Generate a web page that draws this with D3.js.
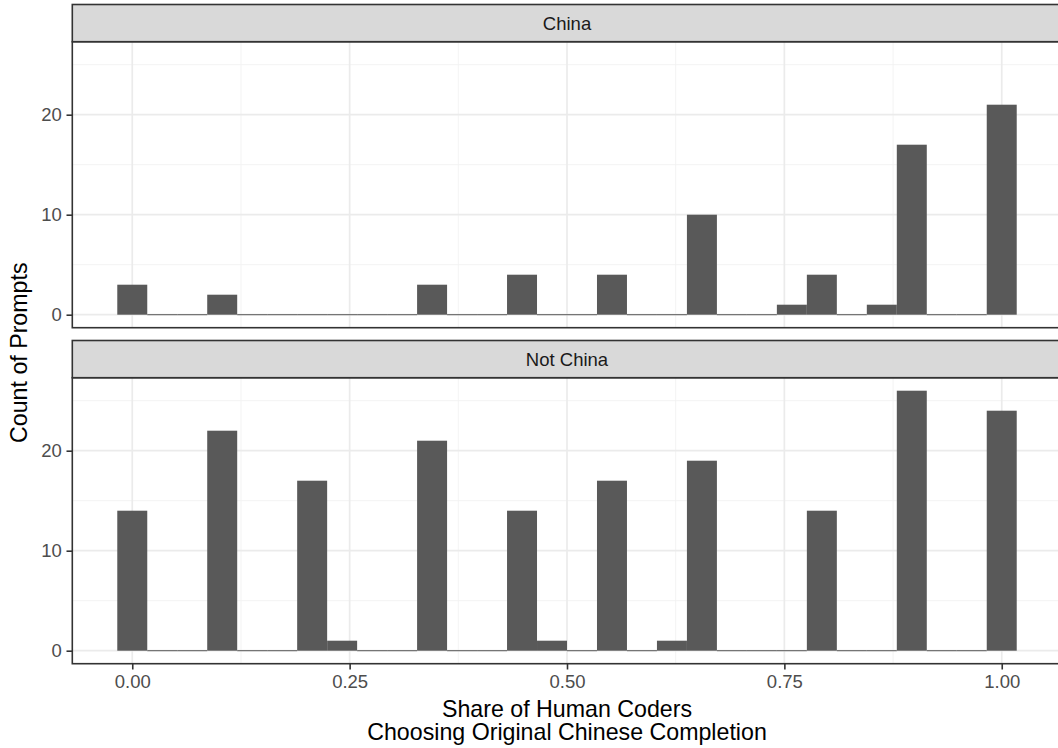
<!DOCTYPE html>
<html>
<head>
<meta charset="utf-8">
<script src="https://cdn.jsdelivr.net/npm/d3@7"></script>
<style>
  html, body { margin: 0; padding: 0; background: #fff; }
  svg { display: block; font-family: "Liberation Sans", Arial, Helvetica, sans-serif; }
</style>
</head>
<body>
<svg id="chart" width="1058" height="748"></svg>
<script>
// ---- data ----
const panels = ["China", "Not China"];
// bin centres are i/29, i = 0..29 (30 bins of width 1/29)
const binIndex = d3.range(30);
const chinaCounts =    [3,0,0,2,0,0,0,0,0,0,3,0,0,4,0,0,4,0,0,10,0,0,1,4,0,1,17,0,0,21];
const notChinaCounts = [14,0,0,22,0,0,17,1,0,0,21,0,0,14,1,0,17,0,1,19,0,0,0,14,0,0,26,0,0,24];
const xTicks = [0, 0.25, 0.5, 0.75, 1];
const xTickLabels = ["0.00", "0.25", "0.50", "0.75", "1.00"];
const yTicks = [0, 10, 20];
const xTitle = ["Share of Human Coders", "Choosing Original Chinese Completion"];
const yTitle = "Count of Prompts";

const seriesByPanel = { "China": chinaCounts, "Not China": notChinaCounts };

// ---- layout ----
const svg = d3.select("#chart");
const FONT = "Liberation Sans, Arial, Helvetica, sans-serif";
const binW = 1 / 29;
const dataMinX = -binW / 2, dataMaxX = 1 + binW / 2;
const padX = (dataMaxX - dataMinX) * 0.05;
const x = d3.scaleLinear().domain([dataMinX - padX, dataMaxX + padX]).range([72.3, 1061.7]);

const yMax = d3.max([...chinaCounts, ...notChinaCounts]);
const yPad = yMax * 0.05;
const panelGeom = [
  { name: "China", stripTop: 4.5, top: 41.7, bottom: 327.7 },
  { name: "Not China", stripTop: 340.5, top: 377.7, bottom: 663.7 }
];

const gridMajor = "#EBEBEB";
const border = "#333333";
const tickLen = 5.8;

panelGeom.forEach((p, pi) => {
  const y = d3.scaleLinear().domain([-yPad, yMax + yPad]).range([p.bottom, p.top]);
  const g = svg.append("g");

  const clipId = "clip" + pi;
  svg.append("clipPath").attr("id", clipId).append("rect")
    .attr("x", x.range()[0]).attr("y", p.top)
    .attr("width", x.range()[1] - x.range()[0]).attr("height", p.bottom - p.top);

  const inner = g.append("g").attr("clip-path", `url(#${clipId})`);

  // minor gridlines
  const xMinor = [-0.125, 0.125, 0.375, 0.625, 0.875, 1.125];
  const yMinor = [5, 15, 25];
  inner.selectAll(".xmin").data(xMinor).join("line")
    .attr("x1", d => x(d)).attr("x2", d => x(d))
    .attr("y1", p.top).attr("y2", p.bottom)
    .attr("stroke", "#F2F2F2").attr("stroke-width", 0.9);
  inner.selectAll(".ymin").data(yMinor).join("line")
    .attr("x1", x.range()[0]).attr("x2", x.range()[1])
    .attr("y1", d => y(d)).attr("y2", d => y(d))
    .attr("stroke", "#F2F2F2").attr("stroke-width", 0.9);
  // major gridlines
  inner.selectAll(".xmaj").data(xTicks).join("line")
    .attr("x1", d => x(d)).attr("x2", d => x(d))
    .attr("y1", p.top).attr("y2", p.bottom)
    .attr("stroke", gridMajor).attr("stroke-width", 1.7);
  inner.selectAll(".ymaj").data(yTicks).join("line")
    .attr("x1", x.range()[0]).attr("x2", x.range()[1])
    .attr("y1", d => y(d)).attr("y2", d => y(d))
    .attr("stroke", gridMajor).attr("stroke-width", 1.7);

  // bars
  const counts = seriesByPanel[p.name];
  inner.selectAll(".bar").data(binIndex).join("rect")
    .attr("x", i => x(i / 29 - binW / 2))
    .attr("width", i => x(i / 29 + binW / 2) - x(i / 29 - binW / 2))
    .attr("y", i => counts[i] > 0 ? y(counts[i]) : y(0) - 0.5)
    .attr("height", i => counts[i] > 0 ? y(0) - y(counts[i]) : 1)
    .attr("fill", "#595959");

  // panel border
  g.append("rect")
    .attr("x", x.range()[0]).attr("y", p.top)
    .attr("width", x.range()[1] - x.range()[0]).attr("height", p.bottom - p.top)
    .attr("fill", "none").attr("stroke", border).attr("stroke-width", 1.6);

  // strip
  g.append("rect")
    .attr("x", x.range()[0]).attr("y", p.stripTop)
    .attr("width", x.range()[1] - x.range()[0]).attr("height", p.top - p.stripTop)
    .attr("fill", "#D9D9D9").attr("stroke", border).attr("stroke-width", 1.6);
  g.append("text")
    .attr("x", (x.range()[0] + x.range()[1]) / 2)
    .attr("y", (p.stripTop + p.top) / 2 + 6.6)
    .attr("text-anchor", "middle")
    .attr("font-size", 18.5).attr("fill", "#1A1A1A").attr("font-family", FONT)
    .text(p.name);

  // y axis
  const yAxis = d3.axisLeft(y).tickValues(yTicks).tickSize(tickLen).tickPadding(4.6).tickFormat(d3.format("d"));
  const ya = g.append("g").attr("transform", `translate(${x.range()[0]},0)`).call(yAxis);
  ya.select(".domain").remove();
  ya.selectAll(".tick line").attr("stroke", border).attr("stroke-width", 1.6);
  ya.selectAll(".tick text").attr("font-size", 18.5).attr("fill", "#4D4D4D")
    .attr("font-family", FONT);

  // x axis only on bottom panel
  if (pi === panelGeom.length - 1) {
    const xAxis = d3.axisBottom(x).tickValues(xTicks).tickSize(tickLen).tickPadding(5.5)
      .tickFormat((d, i) => xTickLabels[i]);
    const xa = g.append("g").attr("transform", `translate(0,${p.bottom})`).call(xAxis);
    xa.select(".domain").remove();
    xa.selectAll(".tick line").attr("stroke", border).attr("stroke-width", 1.6);
    xa.selectAll(".tick text").attr("font-size", 18.5).attr("fill", "#4D4D4D")
      .attr("font-family", FONT);
  }
});

// axis titles
const xMid = (x.range()[0] + x.range()[1]) / 2;
svg.append("text")
  .attr("x", xMid).attr("y", 716.7)
  .attr("text-anchor", "middle").attr("font-size", 23.2).attr("fill", "#000").attr("font-family", FONT)
  .text(xTitle[0]);
svg.append("text")
  .attr("x", xMid).attr("y", 740.3)
  .attr("text-anchor", "middle").attr("font-size", 23.2).attr("fill", "#000").attr("font-family", FONT)
  .text(xTitle[1]);
svg.append("text")
  .attr("transform", `translate(26.7,${(41.7 + 663.7) / 2}) rotate(-90)`)
  .attr("text-anchor", "middle").attr("font-size", 23.2).attr("fill", "#000").attr("font-family", FONT)
  .text(yTitle);
</script>
</body>
</html>
